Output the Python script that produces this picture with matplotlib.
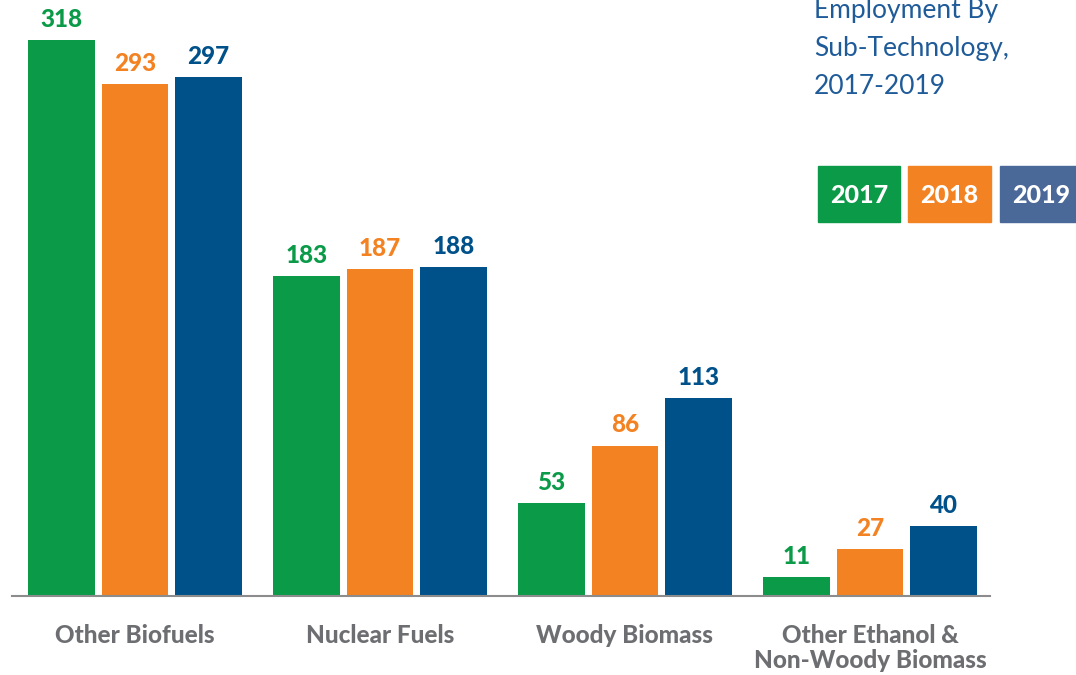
import numpy as np
import matplotlib
matplotlib.use("Agg")
import matplotlib.pyplot as plt
from matplotlib.patches import Rectangle

# data
categories = ["Other Biofuels", "Nuclear Fuels", "Woody Biomass",
              "Other Ethanol &\nNon-Woody Biomass"]
years = ["2017", "2018", "2019"]
v2017 = [318, 183, 53, 11]
v2018 = [293, 187, 86, 27]
v2019 = [297, 188, 113, 40]

GREEN = "#0a9a48"
ORANGE = "#f38322"
BLUE = "#00518a"
LEG_BLUE = "#4a6898"
GRAY = "#6d6e71"
TITLE_BLUE = "#1f5b99"

plt.rcParams["font.family"] = ["Lato", "DejaVu Sans"]

W, H = 1076, 675
fig = plt.figure(figsize=(W / 100, H / 100), dpi=100)
# axes placed in pixel terms: baseline at y=596, x from 12 to 990
ax = fig.add_axes([12 / W, (H - 596) / H, (990 - 12) / W, 596 / H])

x = np.arange(len(categories))
bw = 0.273
step = 0.3
series = [(v2017, GREEN), (v2018, ORANGE), (v2019, BLUE)]
for i, (vals, col) in enumerate(series):
    xs = x + (i - 1) * step
    ax.bar(xs, vals, width=bw, color=col, zorder=2)
    for xi, v in zip(xs, vals):
        ax.annotate(str(v), (xi, v), xytext=(0, 9.5), textcoords="offset points",
                    ha="center", va="baseline", color=col, fontsize=17.5,
                    fontweight="black")

ax.set_xlim(-0.502, 3.49)
ax.set_ylim(0, 341)
for s in ["top", "right", "left"]:
    ax.spines[s].set_visible(False)
ax.spines["bottom"].set_color("#8c8c8c")
ax.spines["bottom"].set_linewidth(1.5)
ax.set_yticks([])
ax.set_xticks(x)
ax.set_xticklabels(categories, color=GRAY, fontsize=17.5, fontweight="black",
                   linespacing=1.1)
ax.tick_params(axis="x", length=0, pad=20)

# title text at top right
fig.text(814 / W, 1 - 94 / H, "Employment By\nSub-Technology,\n2017-2019",
         color=TITLE_BLUE, fontsize=19, fontweight="normal", ha="left",
         va="baseline", linespacing=1.65)

# legend boxes
boxes = [(818, 900, GREEN), (908, 991, ORANGE), (1000, 1082, LEG_BLUE)]
for (x0, x1, col), yr in zip(boxes, years):
    fig.add_artist(Rectangle((x0 / W, 1 - 222 / H), (x1 - x0) / W, 56 / H,
                             transform=fig.transFigure, color=col))
    fig.text((x0 + x1) / 2 / W, 1 - 203 / H, yr, color="white", fontsize=18,
             fontweight="black", ha="center", va="baseline")

fig.savefig("out.png", dpi=100)
